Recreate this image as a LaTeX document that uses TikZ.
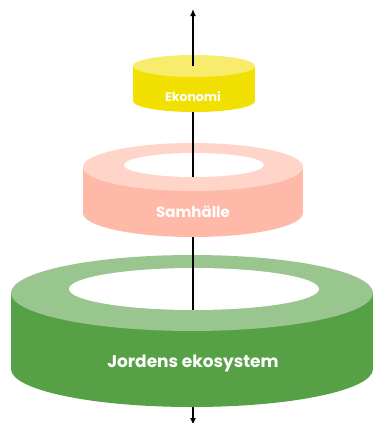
\documentclass[tikz,border=0pt]{standalone}
\usepackage{fontspec}
\setmainfont{Poppins}
\usetikzlibrary{arrows.meta}
\definecolor{ytop}{HTML}{F8EC6C}
\definecolor{ybody}{HTML}{F2E000}
\definecolor{ptop}{HTML}{FFD5CA}
\definecolor{pbody}{HTML}{FFB9A8}
\definecolor{gtop}{HTML}{98C68E}
\definecolor{gbody}{HTML}{56A045}
\tikzset{
  axis/.style={line width=1.3pt, black},
  lbl/.style={text=white, font=\bfseries, inner sep=0pt},
}
\begin{document}
\begin{tikzpicture}[x=1pt,y=-1pt]
\useasboundingbox (0,0) rectangle (373,423);
\coordinate (atop) at (193,9);
\coordinate (abot) at (193,425);
% full axis behind
\draw[axis, {Latex[length=7pt,width=6pt]}-{Latex[length=7pt,width=6pt]}] (abot) -- (atop);
% Ekonomi
\fill[ybody] (194,101) ellipse [x radius=61, y radius=11];
\fill[ybody] (133,66) rectangle (255,101);
\fill[ytop] (194,66) ellipse [x radius=61, y radius=11];
\coordinate (eface) at (193,66);
\coordinate (eabove) at (193,40);
\draw[axis] (eabove) -- (eface);
\node[lbl, font=\bfseries\fontsize{12.5}{14}\selectfont] (eko) at (193,97) {Ekonomi};
% Samhalle
\fill[pbody] (193,213) ellipse [x radius=110, y radius=24];
\fill[pbody] (83,167) rectangle (303,213);
\fill[ptop] (193,167) ellipse [x radius=110, y radius=24];
\fill[white] (194,165) ellipse [x radius=70, y radius=12];
\coordinate (sface) at (193,177);
\coordinate (sabove) at (193,130);
\draw[axis] (sabove) -- (sface);
\node[lbl, font=\bfseries\fontsize{15}{17}\selectfont] (sam) at (193,212) {Samhälle};
% Jordens
\fill[gbody] (192,369) ellipse [x radius=181, y radius=38];
\fill[gbody] (11,293) rectangle (373,369);
\fill[gtop] (192,293) ellipse [x radius=181, y radius=38];
\fill[white] (194,289) ellipse [x radius=125, y radius=21];
\coordinate (jface) at (193,310);
\coordinate (jabove) at (193,240);
\draw[axis] (jabove) -- (jface);
\node[lbl, font=\bfseries\fontsize{17}{19}\selectfont] (jord) at (193,363) {Jordens ekosystem};
\end{tikzpicture}
\end{document}
